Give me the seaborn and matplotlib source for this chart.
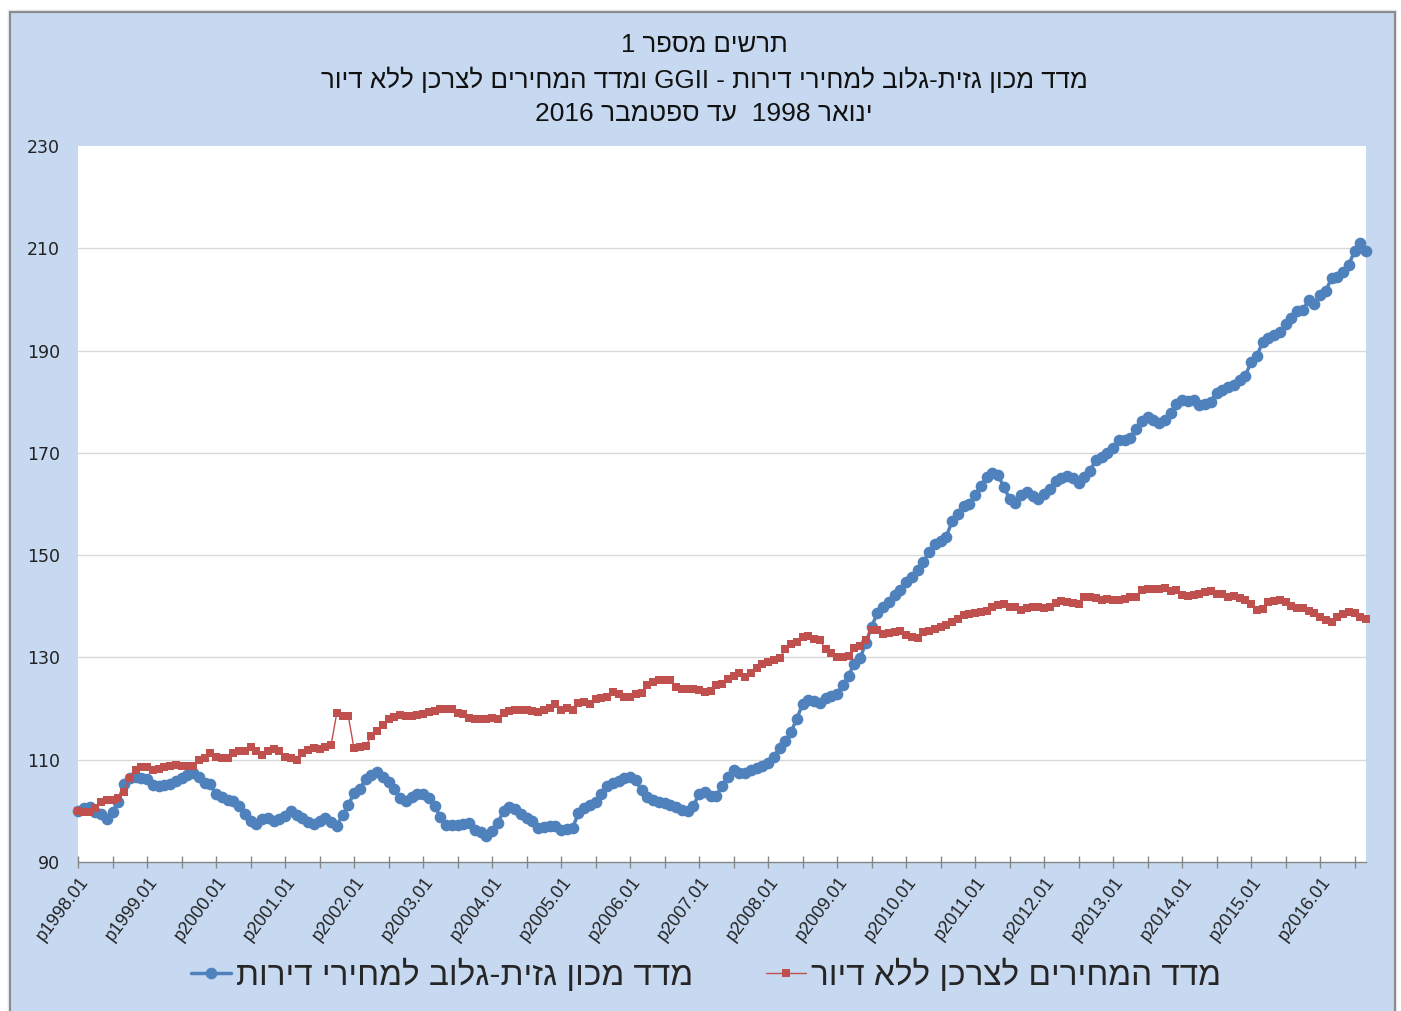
import re
import numpy as np
import pandas as pd
import matplotlib
matplotlib.use("Agg")
import matplotlib.pyplot as plt
import matplotlib.transforms as mtransforms
from matplotlib.patches import Rectangle
from matplotlib.lines import Line2D
import seaborn as sns

# ---------------- data ----------------
title_lines = [
    "תרשים מספר 1",
    "מדד מכון גזית-גלוב למחירי דירות - GGII ומדד המחירים לצרכן ללא דיור",
    "ינואר 1998  עד ספטמבר 2016",
]
series_names = ["מדד מכון גזית-גלוב למחירי דירות", "מדד המחירים לצרכן ללא דיור"]

tick_labels = ["p1998.01", "p1999.01", "p2000.01", "p2001.01", "p2002.01", "p2003.01",
               "p2004.01", "p2005.01", "p2006.01", "p2007.01", "p2008.01", "p2009.01",
               "p2010.01", "p2011.01", "p2012.01", "p2013.01", "p2014.01", "p2015.01",
               "p2016.01"]

# monthly, 1998.01 .. 2016.09
ggii = [
    100.0, 100.5, 100.8, 99.7, 99.3, 98.4, 99.8, 101.8, 105.2, 106.4, 106.7, 106.5,
    106.2, 105.0, 104.8, 105.0, 105.3, 105.8, 106.5, 107.0, 107.4, 106.6, 105.4, 105.2,
    103.2, 102.7, 102.2, 101.9, 100.9, 99.3, 98.0, 97.5, 98.4, 98.6, 98.0, 98.4,
    99.0, 99.9, 99.2, 98.6, 97.9, 97.5, 98.0, 98.7, 97.8, 97.1, 99.2, 101.1,
    103.5, 104.2, 106.2, 107.1, 107.6, 106.6, 105.7, 104.3, 102.6, 101.9, 102.7, 103.3,
    103.3, 102.5, 101.0, 98.8, 97.2, 97.2, 97.2, 97.5, 97.7, 96.2, 95.9, 95.0,
    96.0, 97.6, 100.0, 100.8, 100.4, 99.4, 98.7, 98.0, 96.7, 96.8, 97.0, 97.1,
    96.3, 96.4, 96.6, 99.5, 100.6, 101.2, 101.8, 103.3, 104.9, 105.4, 105.8, 106.5,
    106.6, 106.0, 104.0, 102.8, 102.2, 101.8, 101.5, 101.2, 100.8, 100.2, 100.0, 101.0,
    103.2, 103.6, 103.0, 103.0, 104.8, 106.7, 108.0, 107.4, 107.5, 107.9, 108.3, 108.8,
    109.4, 110.6, 112.2, 113.6, 115.4, 118.0, 120.8, 121.6, 121.4, 121.0, 122.0, 122.4,
    122.8, 124.6, 126.4, 128.8, 129.8, 132.8, 136.0, 138.6, 139.8, 140.8, 142.3, 143.2,
    144.8, 145.8, 147.0, 148.6, 150.6, 152.2, 152.8, 153.6, 156.6, 158.0, 159.6, 160.0,
    161.8, 163.6, 165.2, 166.0, 165.6, 163.4, 161.0, 160.2, 161.8, 162.3, 161.5, 161.0,
    161.9, 163.0, 164.4, 165.1, 165.5, 165.0, 164.2, 165.3, 166.5, 168.6, 169.1, 170.0,
    171.0, 172.5, 172.5, 173.0, 174.6, 176.2, 177.0, 176.4, 175.9, 176.4, 177.8, 179.5,
    180.3, 180.2, 180.3, 179.4, 179.6, 180.0, 181.8, 182.3, 182.8, 183.3, 184.3, 185.0,
    187.8, 188.9, 191.6, 192.5, 193.0, 193.7, 195.1, 196.4, 197.8, 197.9, 199.8, 199.1,
    200.9, 201.6, 204.2, 204.3, 205.4, 206.8, 209.4, 211.0, 209.5,
]

cpi = [
    100.0, 99.8, 99.7, 100.6, 101.8, 102.1, 102.2, 102.5, 103.6, 106.5, 108.0, 108.5,
    108.5, 108.0, 108.2, 108.6, 108.8, 109.0, 108.8, 108.8, 108.8, 110.0, 110.3, 111.3,
    110.6, 110.3, 110.4, 111.3, 111.7, 111.8, 112.4, 111.7, 110.9, 111.8, 112.1, 111.8,
    110.6, 110.3, 110.0, 111.3, 111.9, 112.3, 112.1, 112.5, 112.8, 119.1, 118.6, 118.6,
    112.2, 112.4, 112.6, 114.6, 115.6, 116.8, 117.9, 118.3, 118.8, 118.6, 118.6, 118.7,
    119.0, 119.3, 119.6, 120.0, 120.0, 120.0, 119.2, 119.0, 118.1, 117.9, 117.9, 117.9,
    118.2, 118.0, 119.1, 119.5, 119.8, 119.7, 119.8, 119.5, 119.4, 119.7, 120.1, 120.8,
    119.8, 120.2, 119.7, 121.0, 121.3, 120.8, 121.8, 122.0, 122.3, 123.2, 122.9, 122.2,
    122.2, 122.9, 123.0, 124.6, 125.2, 125.5, 125.6, 125.5, 124.2, 123.8, 123.8, 123.8,
    123.6, 123.3, 123.4, 124.6, 124.9, 125.7, 126.3, 126.9, 126.2, 126.9, 127.9, 128.7,
    129.2, 129.4, 129.8, 131.6, 132.6, 133.0, 134.0, 134.2, 133.6, 133.4, 131.6, 130.8,
    130.1, 130.0, 130.3, 131.9, 132.2, 133.4, 135.3, 135.3, 134.6, 134.7, 135.0, 135.2,
    134.3, 133.9, 133.8, 135.0, 135.2, 135.6, 136.0, 136.4, 136.9, 137.5, 138.2, 138.5,
    138.7, 138.9, 139.0, 139.9, 140.3, 140.5, 139.9, 139.9, 139.2, 139.6, 139.9, 139.8,
    139.7, 139.8, 140.7, 141.1, 140.9, 140.6, 140.4, 141.9, 141.9, 141.7, 141.3, 141.4,
    141.2, 141.2, 141.4, 141.8, 141.9, 143.2, 143.3, 143.3, 143.4, 143.5, 143.0, 143.2,
    142.2, 142.0, 142.2, 142.4, 142.8, 142.9, 142.5, 142.4, 141.8, 142.1, 141.6, 141.2,
    140.4, 139.3, 139.4, 140.8, 141.1, 141.3, 140.9, 140.0, 139.7, 139.7, 139.1, 138.7,
    138.0, 137.3, 137.0, 137.9, 138.5, 138.8, 138.6, 138.0, 137.6,
]

y_ticks = [90, 110, 130, 150, 170, 190, 210, 230]


def vis(s):
    """Visual (display) order for a right-to-left Hebrew string."""
    r = s[::-1]
    return re.sub(r"[A-Za-z0-9][A-Za-z0-9.]*[A-Za-z0-9]|[A-Za-z0-9]",
                  lambda m: m.group(0)[::-1], r)


# ---------------- style ----------------
sns.set_theme(style="white")
plt.rcParams["font.family"] = ["Liberation Sans", "DejaVu Sans"]

BLUE = "#4F81BD"
RED = "#C0504D"
BG = "#C6D9F1"

W, H = 1401, 1011
fig = plt.figure(figsize=(W / 100, H / 100), dpi=100, facecolor="white")

# chart frame with light shadow
for k, a in enumerate([0.06, 0.05, 0.04]):
    fig.patches.append(Rectangle(((10 - 3 + k) / W, -0.02), (1395 - 10 + 6 - 2 * k) / W,
                                 (H - 12 + 3 - k) / H + 0.02, transform=fig.transFigure,
                                 facecolor="#5a7fb0", alpha=a, edgecolor="none", zorder=-10))
fig.patches.append(Rectangle((10 / W, -0.02), (1395 - 10) / W, (H - 12) / H + 0.02,
                             transform=fig.transFigure, facecolor=BG,
                             edgecolor="#8C8C8C", linewidth=1.6, zorder=-5))

ax = fig.add_axes([78 / W, 1 - 862 / H, (1366 - 78) / W, (862 - 146) / H])
ax.set_zorder(1)
ax.set_facecolor("white")

df = pd.DataFrame({"month": np.arange(len(ggii)), "ggii": ggii, "cpi": cpi})

sns.lineplot(data=df, x="month", y="ggii", ax=ax, color=BLUE, linewidth=2.5,
             marker="o", markersize=8.4, markeredgewidth=0, clip_on=False, zorder=3)
sns.lineplot(data=df, x="month", y="cpi", ax=ax, color=RED, linewidth=1.0,
             marker="s", markersize=5.2, markeredgewidth=0, clip_on=False, zorder=4)

ax.set_xlim(0, len(ggii) - 1)
ax.set_ylim(y_ticks[0], y_ticks[-1])
ax.set_xlabel("")
ax.set_ylabel("")

for v in y_ticks[1:-1]:
    ax.axhline(v, color="#D9D9D9", linewidth=1.0, zorder=1)

for s in ["left", "top", "right"]:
    ax.spines[s].set_visible(False)
ax.spines["bottom"].set_color("#868686")
ax.spines["bottom"].set_linewidth(1.0)

ax.set_yticks(y_ticks)
ax.set_yticklabels([str(v) for v in y_ticks], family=["DejaVu Sans"], fontsize=12.5,
                   color="#222222")
ax.tick_params(axis="y", length=0, pad=13)

major = list(range(0, len(ggii), 12))
minor = [m for m in range(6, len(ggii), 12)]
ax.set_xticks(major)
ax.set_xticks(minor, minor=True)
ax.set_xticklabels(tick_labels, rotation=53, ha="right", va="center",
                   rotation_mode="anchor", fontsize=13, color="#222222")
ax.tick_params(axis="x", which="both", bottom=True, direction="inout", length=8,
               width=1, color="#868686", pad=8)
offset = mtransforms.ScaledTranslation(7 / 100, 0, fig.dpi_scale_trans)
for lab in ax.get_xticklabels():
    lab.set_transform(lab.get_transform() + offset)

# titles
cx = 704 / W
fig.text(cx, 1 - 45 / H, vis(title_lines[0]), ha="center", va="center", fontsize=18.5,
         color="#111111")
fig.text(cx, 1 - 80 / H, vis(title_lines[1]), ha="center", va="center", fontsize=18.7,
         color="#111111")
fig.text(cx, 1 - 114 / H, vis(title_lines[2]), ha="center", va="center", fontsize=19,
         color="#111111")

# legend
handles = [
    Line2D([], [], color=BLUE, linewidth=2.5, marker="o", markersize=8.4, markeredgewidth=0),
    Line2D([], [], color=RED, linewidth=1.0, marker="s", markersize=5.2, markeredgewidth=0),
]
fig.legend(handles, [vis(n) for n in series_names], loc="center",
           bbox_to_anchor=(706 / W, 1 - 975 / H), ncol=2, frameon=False, fontsize=24,
           handlelength=1.2, handletextpad=0.15, columnspacing=2.2)

fig.savefig("out.png", dpi=100, facecolor="white")
